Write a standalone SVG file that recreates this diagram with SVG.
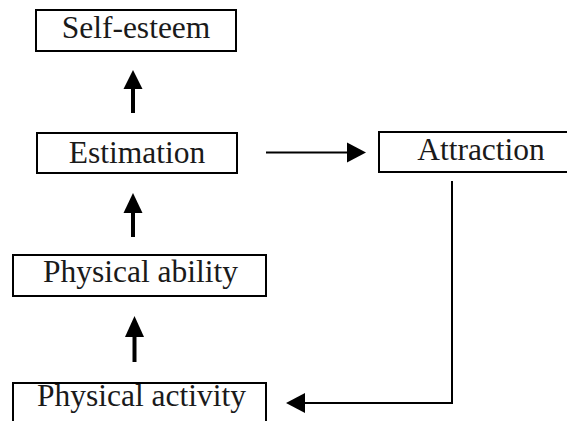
<svg xmlns="http://www.w3.org/2000/svg" width="567" height="421" viewBox="0 0 567 421">
<style>
.box{fill:#fff;stroke:#000;stroke-width:2}
.lbl{font-family:"Liberation Serif","Times New Roman",serif;font-size:31.5px;fill:#1a1a1a;text-anchor:middle}
.shaft{stroke:#000;fill:none}
.head{fill:#000}
</style>
<rect width="567" height="421" fill="#fff"/>
<g id="self-esteem"><rect class="box" x="36" y="10" width="200" height="41"/><text class="lbl" x="136" y="38">Self-esteem</text></g>
<g id="estimation"><rect class="box" x="37" y="133" width="200" height="40"/><text class="lbl" x="137" y="163">Estimation</text></g>
<g id="attraction"><rect class="box" x="379" y="132" width="192" height="40"/><text class="lbl" x="481" y="160">Attraction</text></g>
<g id="physical-ability"><rect class="box" x="13" y="255" width="253" height="41"/><text class="lbl" x="140.5" y="282">Physical ability</text></g>
<g id="physical-activity"><rect class="box" x="13" y="383" width="253" height="45"/><text class="lbl" x="141.5" y="406">Physical activity</text></g>
<g id="connectors">
<line class="shaft" x1="133" y1="113" x2="133" y2="86" stroke-width="4"/>
<polygon class="head" points="133,70 142.5,89 123.5,89"/>
<line class="shaft" x1="133" y1="237" x2="133" y2="210" stroke-width="4"/>
<polygon class="head" points="133,193 142.5,213 123.5,213"/>
<line class="shaft" x1="134.5" y1="362" x2="134.5" y2="334" stroke-width="4"/>
<polygon class="head" points="134.5,316 144,337 125,337"/>
<line class="shaft" x1="266" y1="152.5" x2="350" y2="152.5" stroke-width="2"/>
<polygon class="head" points="366,152.5 347,142.5 347,162.5"/>
<polyline class="shaft" points="452,181 452,403 302,403" stroke-width="2"/>
<polygon class="head" points="286,403 305,393 305,413"/>
</g>
</svg>
